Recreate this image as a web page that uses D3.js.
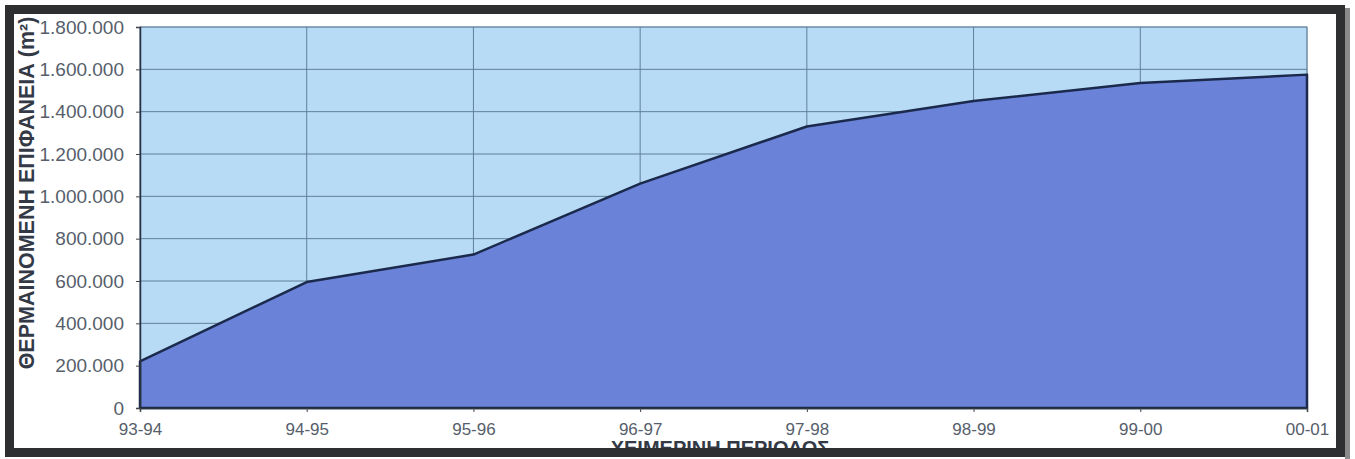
<!DOCTYPE html>
<html lang="el">
<head>
  <meta charset="UTF-8" />
  <title>Θερμαινόμενη επιφάνεια ανά χειμερινή περίοδο</title>
  <script src="https://d3js.org/d3.v7.min.js"></script>
  <style>
    html, body { margin: 0; padding: 0; background: #fff; }
    svg { display: block; font-family: "Liberation Sans", Arial, sans-serif; }
  </style>
</head>
<body>
  <svg id="chart" width="1355" height="459"></svg>

  <script>
    // Data
    const seasons = ["93-94", "94-95", "95-96", "96-97", "97-98", "98-99", "99-00", "00-01"];
    const heatedArea = [220000, 595000, 725000, 1060000, 1330000, 1450000, 1535000, 1575000];
    const yTicks = [0, 200000, 400000, 600000, 800000, 1000000, 1200000, 1400000, 1600000, 1800000];

    const xTitle = "ΧΕΙΜΕΡΙΝΗ ΠΕΡΙΟΔΟΣ";
    const yTitle = "ΘΕΡΜΑΙΝΟΜΕΝΗ ΕΠΙΦΑΝΕΙΑ (m²)";

    const data = seasons.map((s, i) => ({ season: s, value: heatedArea[i] }));

    const svg = d3.select("#chart");
    const width = +svg.attr("width");
    const height = +svg.attr("height");
    const margin = { top: 27, right: 48, bottom: 51, left: 140 };

    // greek style thousands separator: 1.800.000
    const locale = d3.formatLocale({ decimal: ",", thousands: ".", grouping: [3], currency: ["", "€"] });
    const fmt = locale.format(",d");

    const x = d3.scalePoint()
      .domain(seasons)
      .range([margin.left, width - margin.right]);

    const y = d3.scaleLinear()
      .domain([0, 1800000])
      .range([height - margin.bottom, margin.top]);

    // plot background
    svg.append("rect")
      .attr("x", margin.left)
      .attr("y", margin.top)
      .attr("width", x.range()[1] - margin.left)
      .attr("height", y(0) - margin.top)
      .attr("fill", "#b8dbf5")
      .attr("stroke", "#8aa2b8")
      .attr("stroke-width", 1);

    // gridlines
    svg.append("g")
      .selectAll("line")
      .data(yTicks)
      .join("line")
      .attr("x1", margin.left)
      .attr("x2", x.range()[1])
      .attr("y1", d => y(d))
      .attr("y2", d => y(d))
      .attr("stroke", "#5f7f9c")
      .attr("stroke-width", 1);

    svg.append("g")
      .selectAll("line")
      .data(seasons)
      .join("line")
      .attr("x1", d => x(d))
      .attr("x2", d => x(d))
      .attr("y1", margin.top)
      .attr("y2", y(0))
      .attr("stroke", "#5f7f9c")
      .attr("stroke-width", 1);

    // area
    const area = d3.area()
      .x(d => x(d.season))
      .y0(y(0))
      .y1(d => y(d.value));

    svg.append("path")
      .datum(data)
      .attr("d", area)
      .attr("fill", "#6a83d8")
      .attr("stroke", "#1b2a4c")
      .attr("stroke-width", 2.5)
      .attr("stroke-linejoin", "round");

    // Y axis
    const yAxis = svg.append("g")
      .attr("transform", `translate(${margin.left},0)`)
      .call(d3.axisLeft(y).tickValues(yTicks).tickFormat(fmt).tickSize(4).tickPadding(12));
    yAxis.select(".domain").attr("stroke", "#2a3340").attr("stroke-width", 1.5);
    yAxis.selectAll(".tick line").attr("stroke", "#444");
    yAxis.selectAll("text")
      .attr("font-size", "19px")
      .attr("fill", "#565e6b")
      .attr("font-family", "Liberation Sans, Arial, sans-serif");

    // X axis
    const xAxis = svg.append("g")
      .attr("transform", `translate(0,${y(0)})`)
      .call(d3.axisBottom(x).tickSize(4).tickPadding(11));
    xAxis.select(".domain").attr("stroke", "#2a3340").attr("stroke-width", 1.5);
    xAxis.selectAll(".tick line").attr("stroke", "#444");
    xAxis.selectAll("text")
      .attr("font-size", "17px")
      .attr("fill", "#565e6b")
      .attr("font-family", "Liberation Sans, Arial, sans-serif");

    // axis titles
    svg.append("text")
      .attr("x", 720)
      .attr("y", 455)
      .attr("text-anchor", "middle")
      .attr("font-size", "20px")
      .attr("font-weight", "bold")
      .attr("fill", "#333a46")
      .text(xTitle);

    svg.append("text")
      .attr("transform", "translate(34,193) rotate(-90)")
      .attr("text-anchor", "middle")
      .attr("font-size", "21.5px")
      .attr("font-weight", "bold")
      .attr("fill", "#333a46")
      .text(yTitle);

    // outer frame (drawn last, it covers the bottom of the x title)
    svg.append("rect")
      .attr("x", 9.5)
      .attr("y", 9.5)
      .attr("width", 1331)
      .attr("height", 443)
      .attr("fill", "none")
      .attr("stroke", "#2e2f31")
      .attr("stroke-width", 9);

    svg.append("rect")
      .attr("x", 1345)
      .attr("y", 8)
      .attr("width", 5)
      .attr("height", 451)
      .attr("fill", "#8a8a8a");
  </script>
</body>
</html>
